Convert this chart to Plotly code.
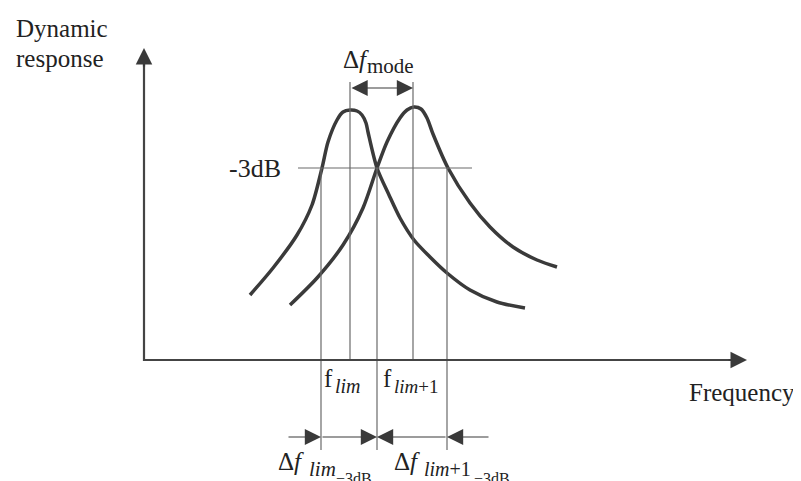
import plotly.graph_objects as go

# Schematic data (units: frequency / response, arbitrary)
mode1_freq = [106, 129, 153, 168, 178, 184, 193, 199, 206, 213, 218, 222, 224, 233, 245, 256, 270, 286, 303, 326, 353, 381]
mode1_resp = [65, 92, 125, 155, 192, 218, 240, 248, 250, 249, 245, 237, 228, 192, 165, 142, 120, 103, 87, 70, 58, 52]
mode2_freq = [146, 173, 199, 219, 233, 243, 256, 263, 270, 277, 283, 289, 304, 326, 346, 369, 393, 413]
mode2_resp = [55, 82, 115, 152, 192, 218, 242, 250, 253, 251, 242, 226, 192, 157, 133, 113, 100, 93]

f_lim = 206
f_lim1 = 269
f_3db = [177, 233, 303]
level_3db = 192
level_3db_span = [154, 328]
axis_top = 312
axis_right = 603

FONT = "Liberation Serif"
DARK = "#3a3a3a"
THIN = "#6a6a6a"

fig = go.Figure()

# Curves
for fx, fy in [(mode1_freq, mode1_resp), (mode2_freq, mode2_resp)]:
    fig.add_trace(go.Scatter(x=fx, y=fy, mode="lines",
                             line=dict(color=DARK, width=3.5, shape="spline", smoothing=0.8),
                             hoverinfo="skip"))

# -3dB horizontal line
fig.add_trace(go.Scatter(x=level_3db_span, y=[level_3db, level_3db], mode="lines",
                         line=dict(color=THIN, width=1.2), hoverinfo="skip"))

# vertical lines at mode frequencies (axis to mode arrow)
for f in [f_lim, f_lim1]:
    fig.add_trace(go.Scatter(x=[f, f], y=[0, 278], mode="lines",
                             line=dict(color=THIN, width=1.2), hoverinfo="skip"))
# vertical lines at -3dB frequencies
for f in f_3db:
    fig.add_trace(go.Scatter(x=[f, f], y=[level_3db, -90], mode="lines",
                             line=dict(color=THIN, width=1.2), hoverinfo="skip"))

# Axes lines
fig.add_trace(go.Scatter(x=[0, 0, axis_right - 10], y=[axis_top - 10, 0, 0], mode="lines",
                         line=dict(color="#444", width=2.2), hoverinfo="skip"))

annotations = []

def arrow(x0, y0, x1, y1, width=1.2, size=2.6, color=DARK, side="end"):
    annotations.append(dict(x=x1, y=y1, ax=x0, ay=y0, xref="x", yref="y", axref="x", ayref="y",
                            text="", showarrow=True, arrowhead=2, startarrowhead=2,
                            arrowside=side, arrowsize=size, startarrowsize=size,
                            arrowwidth=width, arrowcolor=color))

# axis arrowheads
arrow(0, axis_top - 20, 0, axis_top, width=2.2, size=1.5)
arrow(axis_right - 20, 0, axis_right, 0, width=2.2, size=1.5)

# mode arrow (double)
arrow(f_lim, 272, f_lim1, 272, width=1.2, size=2.7, side="end+start")

# bottom -3dB arrows
yb = -77
arrow(143, yb, f_3db[0], yb, width=1.2, size=2.7)
arrow(f_3db[0], yb, f_3db[1], yb, width=1.2, size=2.7)
arrow(f_3db[2], yb, f_3db[1], yb, width=1.2, size=2.7)
arrow(346, yb, f_3db[2], yb, width=1.2, size=2.7)

def label(text, x, y, xanchor="left", yanchor="middle", size=25):
    annotations.append(dict(x=x, y=y, xref="x", yref="y", text=text, showarrow=False,
                            xanchor=xanchor, yanchor=yanchor,
                            font=dict(family=FONT, size=size, color="#222")))

label("Dynamic", -130, 332)
label("response", -130, 302)
label("-3dB", 111, 192, xanchor="center", size=26)

# Δf_mode
label("Δ<i>f</i>", 197, 301)
label("mode", 221, 294, size=21)

# f_lim, f_lim1
label("f", 178, -18)
label("<i>lim</i>", 189, -26, size=20)
label("f", 237, -18)
label("<i>lim</i>+1", 248, -26, size=19)

label("Frequency", 543, -32)

# Δf_lim-3dB, Δf_lim+1-3dB
label("Δ<i>f</i>", 132, -101)
label("<i>lim</i>", 163, -109, size=21)
label("−3dB", 190, -118, size=16)
label("Δ<i>f</i>", 248, -101)
label("<i>lim</i>+1", 278, -109, size=20)
label("−3dB", 328, -118, size=16)

fig.update_layout(
    width=801, height=481,
    margin=dict(l=0, r=0, t=0, b=0),
    paper_bgcolor="white", plot_bgcolor="white",
    showlegend=False,
    xaxis=dict(range=[-136, 665], visible=False, fixedrange=True),
    yaxis=dict(range=[-129, 352], visible=False, fixedrange=True),
    annotations=annotations,
)

fig.write_html("out.html")
